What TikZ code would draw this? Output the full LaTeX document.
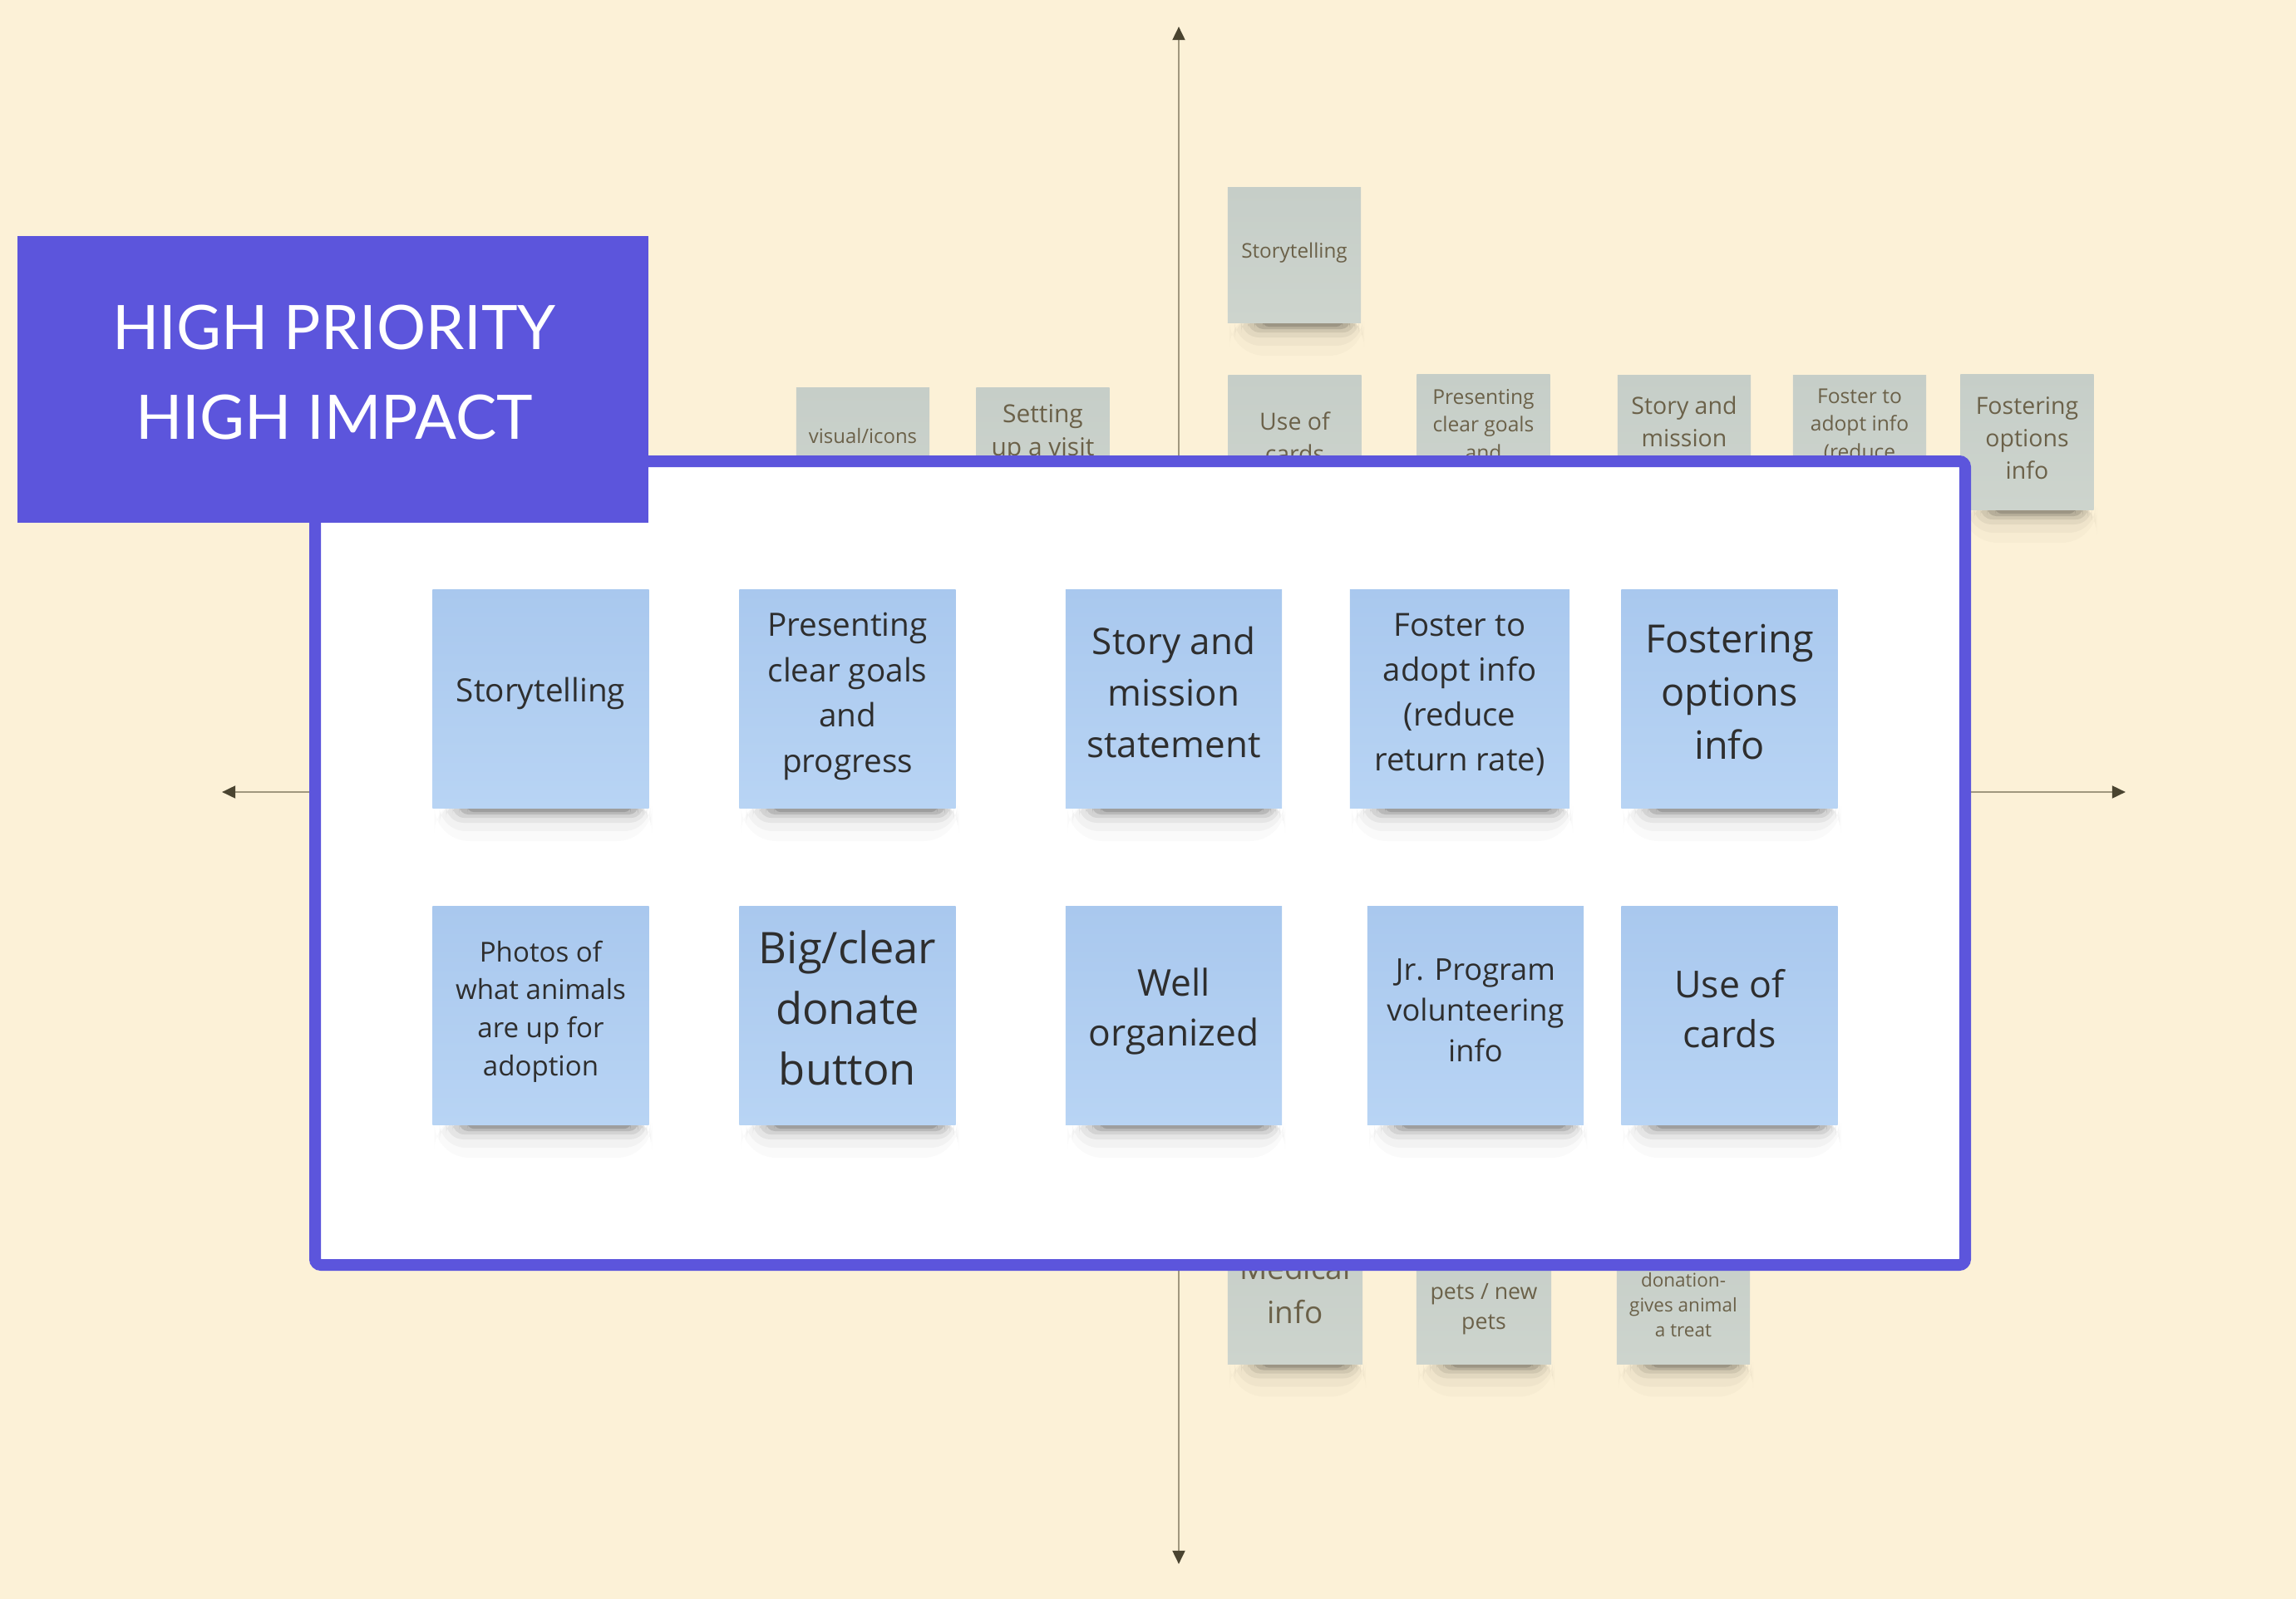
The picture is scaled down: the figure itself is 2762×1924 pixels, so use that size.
\documentclass[tikz,border=0pt]{standalone}
\usepackage{fontspec}
\setmainfont{Open Sans}
\newfontfamily\titlefont{Lato}
\usetikzlibrary{arrows.meta}
\definecolor{bg}{HTML}{FCF1D7}
\definecolor{purp}{HTML}{5C55DC}
\definecolor{bluetop}{HTML}{A9C8EE}
\definecolor{bluebot}{HTML}{B8D4F4}
\definecolor{graytop}{HTML}{C6CEC8}
\definecolor{graybot}{HTML}{CDD4CD}
\definecolor{graytxt}{HTML}{6B6149}
\definecolor{bluetxt}{HTML}{2E2E2E}
\definecolor{axisline}{HTML}{A0977E}
\definecolor{axishead}{HTML}{4A4430}
\newcommand{\fs}[2]{\fontsize{#1pt}{#2pt}\selectfont}
\newcommand{\noteshadow}[4]{%
  \begin{scope}[shift={(#1,#2)}]
    \fill[black,opacity=.02,rounded corners=12pt] (-#3+2,#4-12) rectangle (#3+4,#4+40);
    \fill[black,opacity=.03,rounded corners=9pt] (-#3+8,#4-10) rectangle (#3+2,#4+28);
    \fill[black,opacity=.05,rounded corners=6pt] (-#3+16,#4-8) rectangle (#3-2,#4+18);
    \fill[black,opacity=.08,rounded corners=4pt] (-#3+24,#4-6) rectangle (#3-7,#4+12);
    \fill[black,opacity=.12,rounded corners=3pt] (-#3+32,#4-4) rectangle (#3-13,#4+8);
    \fill[black,opacity=.14,rounded corners=2pt] (-#3+42,#4-2) rectangle (#3-22,#4+5);
  \end{scope}}
\tikzset{
  bnote/.style={rectangle, minimum width=2.6cm, minimum height=2.62cm, inner sep=0pt,
    top color=bluetop, bottom color=bluebot, draw=none},
  gnote/.style={rectangle, minimum width=1.6cm, minimum height=1.63cm, inner sep=0pt,
    top color=graytop, bottom color=graybot, draw=none},
  btext/.style={align=center, text=bluetxt, inner sep=0pt},
  gtext/.style={align=center, text=graytxt, inner sep=0pt},
  axis/.style={draw=axisline, line width=0.8pt,
    {Triangle[length=4.6pt,width=4.2pt,color=axishead]}-{Triangle[length=4.6pt,width=4.2pt,color=axishead]}},
  titletext/.style={text=white, inner sep=0pt, anchor=base, font=\titlefont\fontsize{21pt}{25pt}\selectfont}
}
\begin{document}
\begin{tikzpicture}[x=0.01cm, y=-0.01cm]
\useasboundingbox (0,0) rectangle (2762,1924);
\fill[bg] (0,0) rectangle (2762,1924);

% axes
\coordinate (vtop) at (1418,32);
\coordinate (vbot) at (1418,1882);
\coordinate (hl) at (267,953);
\coordinate (hr) at (2557,953);
\draw[axis] (vbot) -- (vtop);
\draw[axis] (hl) -- (hr);

% background (grey) notes
\noteshadow{1557}{307}{80}{81}
\node[gnote] (g1) at (1557,307) {};
\node[gtext, font=\fs{6.9}{9.5}] (g1t) at ([yshift=0.03cm]g1.center) {Storytelling};

\noteshadow{1038}{548}{80}{81}
\node[gnote] (g2) at (1038,548) {};
\node[gtext, font=\fs{6.8}{9.5}] (g2t) at (1038,525) {visual/icons};

\noteshadow{1254.5}{548}{80}{81}
\node[gnote] (g3) at (1254.5,548) {};
\node[gtext, font=\fs{8.5}{11.4}] (g3t) at (1254.5,521) {Setting\\up a visit};

\noteshadow{1557.5}{533.5}{80}{81}
\node[gnote] (g4) at (1557.5,533.5) {};
\node[gtext, font=\fs{8.1}{11.1}] (g4t) at (1557.5,526.5) {Use of\\cards};

\noteshadow{1784.5}{532.5}{80}{81}
\node[gnote] (g5) at (1784.5,532.5) {};
\node[gtext, font=\fs{7}{9.5}] (g5t) at (1784.5,511) {Presenting\\clear goals\\and};

\noteshadow{2026}{533.5}{80}{81}
\node[gnote] (g6) at (2026,533.5) {};
\node[gtext, font=\fs{8.1}{11.1}] (g6t) at (2026,526.5) {Story and\\mission\\statement};

\noteshadow{2237}{533.5}{80}{81}
\node[gnote] (g7) at (2237,533.5) {};
\node[gtext, font=\fs{7}{9.5}] (g7t) at (2237,512) {Foster to\\adopt info\\(reduce};

\noteshadow{2438.5}{532}{80}{81}
\node[gnote] (g8) at (2438.5,532) {};
\node[gtext, font=\fs{8.1}{11.1}] (g8t) at (2438.5,527) {Fostering\\options\\info};

\noteshadow{1558}{1559.5}{81}{81}
\node[gnote, minimum width=1.62cm] (g9) at (1558,1559.5) {};
\node[gtext, font=\fs{10.5}{15}] (g9t) at (1558,1552) {Medical\\info};

\noteshadow{1785}{1559.5}{81}{81}
\node[gnote, minimum width=1.62cm] (g10) at (1785,1559.5) {};
\node[gtext, font=\fs{7.6}{10.2}] (g10t) at (1785,1575) {pets / new\\pets};

\noteshadow{2025}{1559.5}{80}{81}
\node[gnote] (g11) at (2025,1559.5) {};
\node[gtext, font=\fs{6.4}{8.6}] (g11t) at (2025,1570) {donation-\\gives animal\\a treat};

% white panel
\draw[purp, line width=3.98pt, fill=white, rounded corners=2pt] (379,555) rectangle (2364,1522);
\node[inner sep=0pt] (panel) at (1371.5,1038.5) {};

% blue notes row 1
\noteshadow{650.5}{841}{130}{131}
\node[bnote] (b1) at (650.5,841) {};
\node[btext, font=\fs{11}{15.5}] (b1t) at ([yshift=0.07cm]b1.center) {Storytelling};

\noteshadow{1019.5}{841}{130}{131}
\node[bnote] (b2) at (1019.5,841) {};
\node[btext, font=\fs{11}{15.5}] (b2t) at ([yshift=0.03cm]b2.center) {Presenting\\clear goals\\and\\progress};

\noteshadow{1412}{841}{130}{131}
\node[bnote] (b3) at (1412,841) {};
\node[btext, font=\fs{12.5}{17.5}] (b3t) at ([yshift=0.08cm]b3.center) {Story and\\mission\\statement};

\noteshadow{1756}{841}{132}{131}
\node[bnote, minimum width=2.64cm] (b4) at (1756,841) {};
\node[btext, font=\fs{10.9}{15.4}] (b4t) at ([yshift=0.05cm]b4.center) {Foster to\\adopt info\\(reduce\\return rate)};

\noteshadow{2080.5}{841}{130}{131}
\node[bnote] (b5) at (2080.5,841) {};
\node[btext, font=\fs{13.3}{18.2}] (b5t) at ([yshift=0.08cm]b5.center) {Fostering\\options\\info};

% blue notes row 2
\noteshadow{650.5}{1222}{130}{131}
\node[bnote] (b6) at (650.5,1222) {};
\node[btext, font=\fs{9.4}{13}] (b6t) at ([yshift=0.05cm]b6.center) {Photos of\\what animals\\are up for\\adoption};

\noteshadow{1019.5}{1222}{130}{131}
\node[bnote] (b7) at (1019.5,1222) {};
\node[btext, font=\fs{14.9}{20.8}] (b7t) at ([yshift=0.09cm]b7.center) {Big/clear\\donate\\button};

\noteshadow{1412}{1222}{130}{131}
\node[bnote] (b8) at (1412,1222) {};
\node[btext, font=\fs{12.6}{17}] (b8t) at ([yshift=0.05cm]b8.center) {Well\\organized};

\noteshadow{1775}{1222}{130}{131}
\node[bnote] (b9) at (1775,1222) {};
\node[btext, font=\fs{10.3}{14}] (b9t) at ([yshift=0.06cm]b9.center) {Jr. Program\\volunteering\\info};

\noteshadow{2080.5}{1222}{130}{131}
\node[bnote] (b10) at (2080.5,1222) {};
\node[btext, font=\fs{12.7}{17}] (b10t) at ([yshift=0.08cm]b10.center) {Use of\\cards};

% title box
\fill[purp] (21,284) rectangle (780,629);
\node[inner sep=0pt] (titlebox) at (400.5,456.5) {};
\node[titletext] (title1) at (402,420) {HIGH PRIORITY};
\node[titletext] (title2) at (402,528) {HIGH IMPACT};
\end{tikzpicture}
\end{document}
